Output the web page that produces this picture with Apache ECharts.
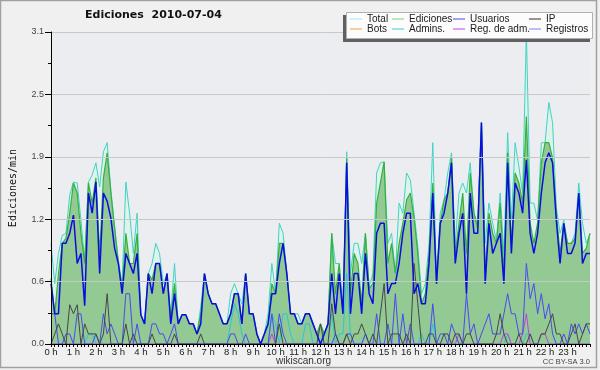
<!DOCTYPE html>
<html><head><meta charset="utf-8">
<script src="https://cdn.jsdelivr.net/npm/echarts@6/dist/echarts.min.js"></script>
<style>html,body{margin:0;padding:0;background:#f0f0f0}#c{width:600px;height:370px}</style>
</head><body><div id="c"></div><script>
// 10-minute slots 00:00 .. 24:00
const times = [];
for (let h = 0; h <= 24; h++) for (let m = 0; m < 60; m += 10) { if (h === 24 && m > 0) break; times.push(String(h).padStart(2,'0') + ':' + String(m).padStart(2,'0')); }
const hourLabels = ['0 h','1 h','2 h','3 h','4 h','5 h','6 h','7 h','8 h','9 h','10 h','11 h','12 h','13 h','14 h','15 h','16 h','17 h','18 h','19 h','20 h','21 h','22 h','23 h'];
const yTicks = [0, 0.62, 1.24, 1.86, 2.48, 3.1];

const total = [
1.0,0.6,0.9,1.08,1.1,1.48,1.61,1.6,1.23,0.83,
1.61,1.68,1.8,1.56,1.91,2.0,1.53,1.17,0.83,0.6,
1.61,1.3,0.9,1.3,0.29,0.2,0.7,0.8,1.0,0.9,
0.6,0.7,0.3,0.8,0.2,0.29,0.29,0.2,0.2,0.1,
0.37,0.7,0.5,0.4,0.4,0.3,0.2,0.2,0.5,0.6,
0.5,0.4,0.7,0.3,0.3,0.1,0.0,0.1,0.3,0.8,
0.5,1.2,1.1,0.7,0.3,0.3,0.3,0.2,0.3,0.3,
0.2,0.1,0.2,0.1,0.2,1.1,0.8,0.8,0.3,1.91,
0.7,1.0,1.0,0.8,1.1,0.57,0.7,1.7,1.8,1.81,
1.0,1.1,0.7,1.4,1.3,1.7,1.63,1.3,0.97,0.5,
0.6,1.0,2.0,0.64,1.3,1.43,1.7,1.9,1.0,1.5,
1.6,1.5,1.8,1.3,1.2,2.2,1.0,1.4,1.2,1.03,
1.5,0.9,2.1,1.23,2.0,1.76,1.5,3.1,1.4,1.4,
1.23,2.0,2.0,2.4,2.2,1.36,1.1,1.23,1.0,1.0,
1.1,1.6,1.2,1.0,1.1];
const ediciones = [
0.65,0.3,0.7,1.0,1.05,1.3,1.6,1.5,1.1,0.8,
1.6,1.4,1.65,0.9,1.65,1.9,1.5,1.15,0.8,0.55,
1.1,0.8,0.8,1.1,0.29,0.2,0.7,0.64,0.8,0.8,
0.5,0.7,0.25,0.6,0.2,0.29,0.29,0.2,0.2,0.1,
0.3,0.7,0.5,0.4,0.4,0.3,0.2,0.2,0.3,0.5,
0.5,0.2,0.7,0.3,0.3,0.1,0.0,0.1,0.2,0.6,
0.5,1.0,1.0,0.7,0.3,0.3,0.2,0.2,0.3,0.3,
0.2,0.1,0.2,0.1,0.2,1.1,0.5,0.8,0.3,1.85,
0.5,0.9,0.8,0.4,1.1,0.55,0.6,1.4,1.6,1.81,
0.8,1.0,0.7,1.0,1.2,1.43,1.5,1.25,0.9,0.4,
0.5,0.9,1.6,0.6,1.2,1.43,1.5,1.85,0.9,1.2,
1.5,0.9,1.7,1.3,1.15,2.2,0.7,1.3,1.1,1.0,
1.4,0.7,1.9,1.0,1.7,1.6,1.4,2.26,1.2,1.0,
1.2,1.8,2.0,2.0,1.85,1.3,0.9,1.2,1.0,1.0,
1.05,1.5,0.9,0.95,1.1];
const usuarios = [
0.6,0.3,0.3,1.0,1.0,1.1,1.28,0.8,0.9,0.38,
1.5,1.3,1.61,0.7,1.5,1.42,1.25,0.95,0.8,0.5,
0.9,0.8,0.7,0.9,0.29,0.2,0.7,0.5,0.8,0.8,
0.5,0.7,0.2,0.5,0.2,0.29,0.29,0.2,0.2,0.1,
0.2,0.7,0.5,0.4,0.4,0.3,0.2,0.2,0.3,0.5,
0.5,0.2,0.7,0.3,0.3,0.1,0.0,0.1,0.2,0.5,
0.5,0.8,1.0,0.7,0.3,0.3,0.2,0.2,0.3,0.3,
0.2,0.1,0.0,0.1,0.2,0.7,0.3,0.7,0.3,1.8,
0.3,0.7,0.7,0.3,0.9,0.5,0.4,1.1,1.2,1.2,
0.5,0.6,0.6,0.8,1.1,1.3,1.3,0.5,0.6,0.4,
0.4,0.8,1.5,0.6,1.2,1.3,1.5,1.8,0.8,1.1,
1.3,0.5,1.5,1.1,1.1,2.2,0.6,1.2,0.9,1.0,
1.1,0.6,1.8,0.9,1.6,1.5,1.3,1.83,1.1,0.9,
1.1,1.5,1.8,1.9,1.8,1.23,0.8,1.2,0.9,0.9,
1.0,1.5,0.8,0.9,0.9];
const ip = [
0,0.1,0.2,0.1,0,0.39,0.3,0.39,0,0.2,
0.1,0.1,0.1,0,0.1,0.5,0,0,0,0,
0.2,0,0.1,0,0,0,0,0.1,0,0,
0,0,0,0.1,0,0,0,0,0,0,
0.1,0,0,0,0,0,0,0,0,0,
0,0,0,0,0,0,0,0,0,0,
0,0.2,0,0,0,0,0,0,0,0,
0,0,0.2,0,0,0.4,0.1,0,0,0.1,
0,0.1,0.1,0.2,0.1,0,0.1,0,0.3,0.6,
0,0.1,0.1,0.1,0,0.1,0,0.8,0.4,0,
0,0.1,0.1,0,0,0.1,0.1,0,0.1,0.1,
0,0.1,0.1,0,0,0,0,0,0,0.1,
0.3,0.1,0,0,0,0.1,0,0,0.1,0,
0,0.1,0.1,0.2,0.3,0.1,0.1,0,0,0.1,
0.2,0,0.1,0.2,0.2];
const registros = [
0.3,0.3,0,0,0.1,0.1,0,0.3,0.3,0,
0,0,0.1,0,0.3,0.1,0.2,0.1,0,0,
0.5,0.5,0,0.2,0,0,0,0.2,0.2,0.1,
0.1,0,0.1,0.2,0,0,0,0,0,0,
0,0,0,0,0,0,0,0,0.1,0.1,
0,0,0.1,0,0,0,0,0,0,0.3,
0,0.3,0.1,0,0,0,0,0,0,0,
0,0,0,0,0,0,0.1,0,0,0.1,
0.1,0,0,0,0.1,0,0,0.3,0,0,
0.2,0,0.5,0,0.3,0,0.2,0,0,0,
0,0,0.4,0,0.1,0.1,0,0.2,0.1,0,
0,0.5,0.1,0.2,0,0.1,0.2,0.3,0.1,0.1,
0.1,0.3,0.5,0.3,0.3,0.1,0.1,0.8,0.45,0.6,
0.3,0.5,0.25,0.4,0.1,0,0,0.1,0,0.2,
0.1,0.2,0.1,0.2,0.1];
const admins = [
0,0,0,0,0,0,0,0,0,0,
0.1,0.1,0,0,0,0,0,0,0,0,
0,0,0,0,0,0,0,0,0,0,
0,0,0,0,0,0,0,0,0,0,
0,0,0,0,0,0,0,0,0.2,0.4,
0.3,0.1,0,0,0,0,0,0,0,0.3,
0.2,0,0.3,0.3,0.1,0,0,0,0.2,0.2,
0,0,0,0,0,0.3,0,0.1,0.1,0.7,
0.1,0,0,0,0.1,0,0,0,0,0,
0,0,0,0,0,0,0,0,0,0.1,
0,0,0.2,0,0,0,0,0,0,0,
0,0,0,0,0,0,0,0,0,0,
0,0,0.1,0,0,0,0,0.1,0.1,0,
0,0,0,0,0,0,0,0,0,0,
0,0,0,0,0];
const regAdm = [
0,0,0,0,0,0,0,0,0,0,
0,0,0,0,0,0,0,0,0,0,
0,0,0,0,0,0,0,0,0,0,
0,0,0,0,0,0,0,0,0,0,
0,0,0,0,0,0,0,0,0,0,
0,0,0,0,0,0,0,0,0,0.1,
0,0,0,0,0,0,0,0,0,0,
0,0,0,0,0,0,0,0,0,0,
0,0,0,0,0,0,0,0,0,0,
0,0,0,0,0,0,0,0,0,0,
0,0,0,0,0,0,0,0,0,0.1,
0,0,0,0,0,0,0,0,0,0,
0,0.1,0.1,0,0,0,0.1,0.3,0,0,
0,0.1,0.1,0,0,0,0,0,0,0,
0,0,0,0,0];
const bots = [
0,0,0,0,0,0,0,0,0,0,0,0,0,0,0,0,0,0,0,0,0,0,0,0,0,0,0,0,0,0,
0,0,0,0,0,0,0,0,0,0,0,0,0,0,0,0,0,0,0,0,0,0,0,0,0,0,0,0,0,0,
0,0,0,0,0,0,0,0,0,0,0,0,0,0,0,0,0,0,0,0,0,0,0,0,0,0,0,0,0,0,
0,0,0,0,0,0,0,0,0,0,0,0,0,0,0,0,0,0,0,0,0,0,0,0,0,0,0,0,0,0,
0,0,0,0,0,0,0,0,0,0,0,0,0,0,0,0,0,0,0,0,0,0,0,0,0];

const chart = echarts.init(document.getElementById('c'), null, {renderer: 'canvas'});
const legendCommon = {orient: 'vertical', itemWidth: 12, itemHeight: 1, itemGap: 0, padding: 0, icon: 'rect', selectedMode: false, z: 5,
  textStyle: {fontFamily: 'Liberation Sans', fontSize: 10, color: '#202020', lineHeight: 10}};
function line(name, data, color, width, extra) {
  return Object.assign({name, type: 'line', data, symbol: 'none', showSymbol: false, animation: false,
    lineStyle: {color, width}, itemStyle: {color}, z: 2}, extra || {});
}
chart.setOption({
  backgroundColor: '#f0f0f0',
  animation: false,
  title: {text: 'Ediciones  2010-07-04', left: 85, top: 10, padding: 0,
    textStyle: {fontFamily: 'DejaVu Sans', fontWeight: 'bold', fontSize: 11, color: '#111'}},
  grid: {left: 46, right: 10, top: 32, bottom: 26, show: true, backgroundColor: '#ebedf0', borderWidth: 0},
  legend: [
    Object.assign({left: 350, top: 14, data: [{name: 'Total', itemStyle: {color: '#a8e8e0'}}, {name: 'Bots', itemStyle: {color: '#f0a040'}}]}, legendCommon),
    Object.assign({left: 392, top: 14, data: [{name: 'Ediciones', itemStyle: {color: '#80cc80'}}, {name: 'Admins.', itemStyle: {color: '#40c8d8'}}]}, legendCommon),
    Object.assign({left: 453, top: 14, data: [{name: 'Usuarios', itemStyle: {color: '#4848e8'}}, {name: 'Reg. de adm.', itemStyle: {color: '#d040e0'}}]}, legendCommon),
    Object.assign({left: 529, top: 14, data: [{name: 'IP', itemStyle: {color: '#303030'}}, {name: 'Registros', itemStyle: {color: '#8080f0'}}]}, legendCommon)
  ],
  xAxis: {type: 'category', data: times, boundaryGap: false, z: 3,
    axisLine: {lineStyle: {color: '#000', width: 1}},
    axisTick: {interval: 0, length: 3, lineStyle: {color: '#000'}},
    axisLabel: {interval: 5, margin: 3, fontFamily: 'Liberation Sans', fontSize: 9.5, color: '#222',
      formatter: (v) => { const h = parseInt(v.slice(0, 2), 10); return hourLabels[h] || ''; }},
    splitLine: {show: false}},
  yAxis: {type: 'value', min: yTicks[0], max: yTicks[yTicks.length - 1], interval: yTicks[1], z: 3,
    name: 'Ediciones/min', nameLocation: 'middle', nameGap: 33,
    nameTextStyle: {fontFamily: 'DejaVu Sans Mono', fontSize: 10, color: '#111'},
    axisLine: {show: true, lineStyle: {color: '#000', width: 1}},
    axisTick: {show: true, length: 6, lineStyle: {color: '#000'}},
    minorTick: {show: true, splitNumber: 2, length: 3, lineStyle: {color: '#000'}},
    axisLabel: {margin: 7, fontFamily: 'Liberation Sans', fontSize: 9, color: '#444', formatter: (v) => v.toFixed(1)},
    splitLine: {lineStyle: {color: '#c8c8c8', width: 1}}},
  series: [
    line('Bots', bots, '#f09030', 1),
    line('Total', total, '#3ed4c4', 1, {areaStyle: {color: '#dff2ec', opacity: 1}}),
    line('Ediciones', ediciones, '#35b03a', 1.2, {areaStyle: {color: '#93c993', opacity: 1}}),
    line('Admins.', admins, '#2cc6d4', 1),
    line('Reg. de adm.', regAdm, '#c040e0', 1),
    line('Registros', registros, '#4a4af0', 1),
    line('IP', ip, '#474747', 1),
    line('Usuarios', usuarios, '#0c0ce0', 1.5)
  ],
  graphic: [
    {type: 'rect', z: 4, shape: {x: 343, y: 15, width: 247, height: 27}, style: {fill: '#606060'}},
    {type: 'rect', z: 4, shape: {x: 346.5, y: 12.5, width: 246, height: 26}, style: {fill: '#fcfcfc', stroke: '#b0b0b0', lineWidth: 1}},
    {type: 'text', z: 4, left: 276, top: 356, style: {text: 'wikiscan.org', fontFamily: 'Liberation Sans', fontSize: 10, fill: '#333'}},
    {type: 'text', z: 4, right: 10, top: 358, style: {text: 'CC BY-SA 3.0', fontFamily: 'Liberation Sans', fontSize: 7.5, fill: '#444'}},
    {type: 'rect', z: 10, silent: true, shape: {x: 0.5, y: 0.5, width: 596, height: 367}, style: {fill: 'none', stroke: '#a0a0a0', lineWidth: 1.5}}
  ]
});
</script></body></html>
